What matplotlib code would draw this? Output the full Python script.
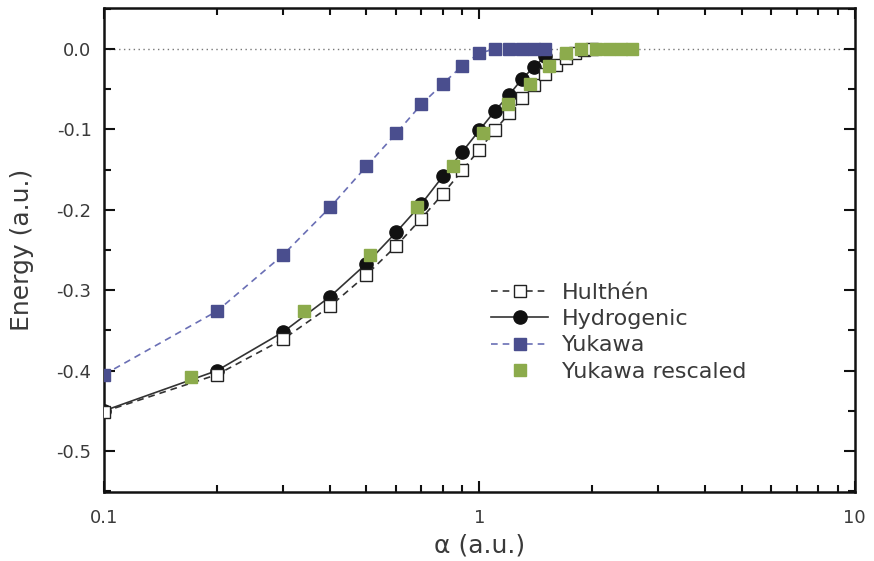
import numpy as np
import matplotlib as mpl
mpl.use('Agg')
import matplotlib.pyplot as plt
from matplotlib.ticker import MultipleLocator, FixedLocator, FixedFormatter, LogLocator, NullFormatter

# screening parameter alpha (a.u.) and ground-state energies (a.u.)
alpha_hulthen = [0.1, 0.2, 0.3, 0.4, 0.5, 0.6, 0.7, 0.8, 0.9, 1.0,
                 1.1, 1.2, 1.3, 1.4, 1.5, 1.6, 1.7, 1.8, 1.9, 2.0]
energy_hulthen = [-0.451, -0.405, -0.361, -0.320, -0.281, -0.245, -0.211,
                  -0.180, -0.151, -0.125, -0.101, -0.080, -0.061, -0.045,
                  -0.031, -0.020, -0.011, -0.005, -0.001, 0.0]

alpha_hydrogenic = [0.1, 0.2, 0.3, 0.4, 0.5, 0.6, 0.7, 0.8, 0.9, 1.0,
                    1.1, 1.2, 1.3, 1.4, 1.5]
energy_hydrogenic = [-0.450, -0.400, -0.352, -0.308, -0.267, -0.228, -0.193,
                     -0.158, -0.128, -0.101, -0.077, -0.057, -0.037, -0.022,
                     -0.009]

alpha_yukawa = [0.1, 0.2, 0.3, 0.4, 0.5, 0.6, 0.7, 0.8, 0.9, 1.0,
                1.1, 1.2, 1.3, 1.4, 1.5]
energy_yukawa = [-0.405, -0.326, -0.256, -0.197, -0.146, -0.105, -0.069,
                 -0.043, -0.021, -0.005, 0.0, 0.0, 0.0, 0.0, 0.0]

alpha_rescaled = [0.17, 0.34, 0.51, 0.68, 0.85, 1.02, 1.19, 1.36, 1.53, 1.70,
                  1.87, 2.04, 2.21, 2.38, 2.55]
energy_rescaled = [-0.408, -0.326, -0.256, -0.197, -0.146, -0.105, -0.069,
                   -0.043, -0.021, -0.005, 0.0, 0.0, 0.0, 0.0, 0.0]

xticks = [0.1, 1, 10]
xticklabels = ['0.1', '1', '10']

textcolor = '#3a3a3a'
blue = '#4a4e8e'
green = '#8cab4c'

plt.rcParams['font.family'] = ['DejaVu Sans']

fig = plt.figure(figsize=(8.74, 5.61), dpi=100)
ax = fig.add_axes([0.119, 0.123, 0.859, 0.8627])

# zero line
ax.axhline(0.0, color='#777777', lw=1.0, ls=(0, (1, 2.5)), zorder=1)

ax.plot(alpha_hydrogenic, energy_hydrogenic, ls='-', color='#333333', lw=1.2,
        marker='o', ms=9.5, mfc='#111111', mec='#111111',
        label='Hydrogenic', zorder=2)
ax.plot(alpha_hulthen, energy_hulthen, ls=(0, (4, 3)), color='#333333', lw=1.2,
        marker='s', ms=8, mfc='white', mec='#222222', mew=1.0,
        label='Hulthén', zorder=3)
ax.plot(alpha_yukawa, energy_yukawa, ls=(0, (4, 3)), color='#6a6fb5', lw=1.2,
        marker='s', ms=8.5, mfc=blue, mec=blue,
        label='Yukawa', zorder=4)
ax.plot(alpha_rescaled, energy_rescaled, ls='none',
        marker='s', ms=8.5, mfc=green, mec=green,
        label='Yukawa rescaled', zorder=5)

ax.set_xscale('log')
ax.set_xlim(0.1, 10)
ax.set_ylim(-0.551, 0.051)

ax.xaxis.set_major_locator(FixedLocator(xticks))
ax.xaxis.set_major_formatter(FixedFormatter(xticklabels))
ax.xaxis.set_minor_locator(LogLocator(base=10, subs=np.arange(2, 10)))
ax.xaxis.set_minor_formatter(NullFormatter())
ax.yaxis.set_major_locator(MultipleLocator(0.1))
ax.yaxis.set_minor_locator(MultipleLocator(0.05))
ax.yaxis.set_major_formatter(mpl.ticker.FuncFormatter(
    lambda v, p: '%.1f' % (0.0 if abs(v) < 1e-9 else v)))

ax.tick_params(which='both', direction='in', top=True, right=True,
               width=1.5, colors='#111111', labelcolor=textcolor,
               labelsize=13)
ax.tick_params(which='major', length=8, pad=9)
ax.tick_params(which='minor', length=5)
ax.tick_params(axis='x', which='major', pad=12)
for s in ax.spines.values():
    s.set_linewidth(1.8)
    s.set_color('#111111')

ax.set_xlabel('α (a.u.)', fontsize=18, color=textcolor, labelpad=5)
ax.set_ylabel('Energy (a.u.)', fontsize=18, color=textcolor, labelpad=16)

# legend order as in the reference
h, l = ax.get_legend_handles_labels()
order = [1, 0, 2, 3]
leg = ax.legend([h[i] for i in order], [l[i] for i in order],
                loc='upper left', bbox_to_anchor=(0.515, 0.432), frameon=False,
                fontsize=16, numpoints=1, handlelength=2.6, handletextpad=0.6,
                labelspacing=0.28, borderpad=0, borderaxespad=0)
for t in leg.get_texts():
    t.set_color(textcolor)

fig.savefig('out.png', dpi=100)
